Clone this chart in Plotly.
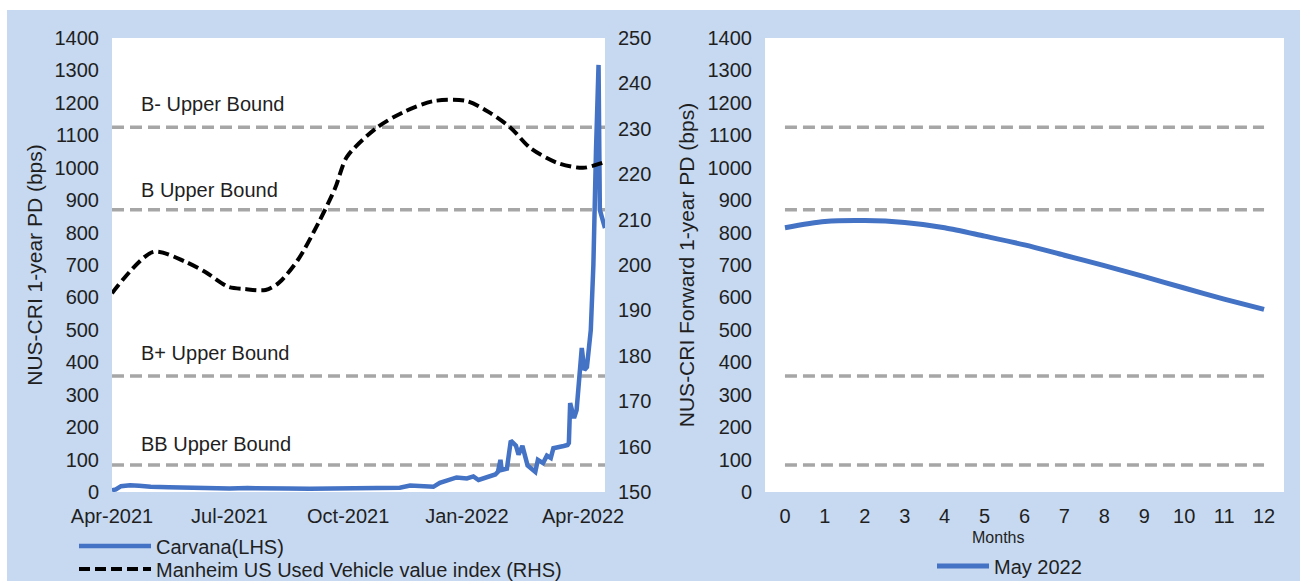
import plotly.graph_objects as go

# ---------------- data ----------------
carvana_dates = [
    "2021-04-01", "2021-04-04", "2021-04-08", "2021-04-15", "2021-04-22", "2021-05-01",
    "2021-05-15", "2021-06-01", "2021-06-15", "2021-07-01", "2021-07-15", "2021-08-01",
    "2021-08-15", "2021-09-01", "2021-09-15", "2021-10-01", "2021-10-15", "2021-11-01",
    "2021-11-10", "2021-11-18", "2021-11-26", "2021-12-06", "2021-12-11", "2021-12-19",
    "2021-12-24", "2022-01-01", "2022-01-06", "2022-01-10", "2022-01-16", "2022-01-23",
    "2022-01-25", "2022-01-27", "2022-01-28", "2022-02-01", "2022-02-04", "2022-02-08",
    "2022-02-10", "2022-02-13", "2022-02-17", "2022-02-21", "2022-02-23", "2022-02-25",
    "2022-03-01", "2022-03-04", "2022-03-07", "2022-03-09", "2022-03-13", "2022-03-17",
    "2022-03-20", "2022-03-21", "2022-03-22", "2022-03-25", "2022-03-27", "2022-03-29",
    "2022-03-31", "2022-04-02", "2022-04-04", "2022-04-07", "2022-04-09", "2022-04-11",
    "2022-04-13", "2022-04-14", "2022-04-16", "2022-04-18",
]
carvana_pd = [
    5, 8, 18, 21, 19, 16,
    15, 13, 14, 11, 12, 10,
    11, 10, 11, 10, 12, 11,
    13, 20, 17, 16, 28, 37,
    45, 42, 48, 37, 46, 54,
    62, 99, 68, 72, 158, 143,
    115, 142, 82, 68, 62, 99,
    89, 112, 105, 135, 140, 142,
    145, 151, 274, 228, 253, 345,
    444, 376, 385, 500, 700, 1050,
    1317, 870, 840, 814,
]

manheim_dates = [
    "2021-04-01", "2021-05-03", "2021-05-28", "2021-06-12", "2021-06-30", "2021-07-13",
    "2021-07-29", "2021-08-08", "2021-08-23", "2021-09-08", "2021-09-21", "2021-09-30",
    "2021-10-23", "2021-11-13", "2021-12-06", "2022-01-01", "2022-01-19", "2022-02-04",
    "2022-02-19", "2022-03-12", "2022-04-01", "2022-04-18",
]
manheim_index = [
    193.8, 202.9, 200.7, 198.5, 195.2, 194.7,
    194.5, 196.0, 201.1, 209.3, 217.0, 223.8,
    230.2, 233.7, 236.1, 236.1, 233.5, 230.2,
    225.8, 222.5, 221.4, 222.7,
]

bound_names = ["B- Upper Bound", "B Upper Bound", "B+ Upper Bound", "BB Upper Bound"]
bound_values = [1125, 870, 358, 83]
bound_label_y = [1196, 931, 429, 148]

date_range = ["2021-04-01", "2022-04-18"]
date_tickvals = ["2021-04-01", "2021-07-01", "2021-10-01", "2022-01-01", "2022-04-01"]
date_ticktext = ["Apr-2021", "Jul-2021", "Oct-2021", "Jan-2022", "Apr-2022"]

months = list(range(13))
forward_pd_may2022 = [815, 834, 837, 831, 815, 789, 762, 730, 698, 664, 629, 595, 563]

# ---------------- layout geometry ----------------
W, H = 1306, 581
ML, MT = 112, 38
MR = W - 1284
MB = H - 492
PW = W - ML - MR
PH = H - MT - MB
BG = "#C6D9F1"
BLUE = "#4472C4"
GREY = "#A6A6A6"
TXT = "#1f1f1f"
FONT = "Liberation Sans"


def px_x(p):
    return (p - ML) / PW


def px_y(p):
    return (H - MB - p) / PH


left_dom = [0, px_x(605)]
right_dom = [px_x(765), 1]

fig = go.Figure()

for v in bound_values:
    fig.add_trace(go.Scatter(
        x=date_range, y=[v, v], mode="lines", xaxis="x", yaxis="y",
        line=dict(color=GREY, width=3.5, dash="12px,6px"), showlegend=False, hoverinfo="skip"))

for v in bound_values:
    fig.add_trace(go.Scatter(
        x=months, y=[v] * len(months), mode="lines", xaxis="x2", yaxis="y3",
        line=dict(color=GREY, width=3.5, dash="12px,6px"), showlegend=False, hoverinfo="skip"))

fig.add_trace(go.Scatter(
    x=manheim_dates, y=manheim_index, mode="lines", name="Manheim US Used Vehicle value index (RHS)",
    xaxis="x", yaxis="y2", line=dict(color="black", width=4, dash="11px,5px", shape="spline", smoothing=0.8),
    legend="legend3"))

fig.add_trace(go.Scatter(
    x=carvana_dates, y=carvana_pd, mode="lines", name="Carvana(LHS)",
    xaxis="x", yaxis="y", line=dict(color=BLUE, width=4.5), legend="legend"))

fig.add_trace(go.Scatter(
    x=months, y=forward_pd_may2022, mode="lines", name="May 2022",
    xaxis="x2", yaxis="y3", line=dict(color=BLUE, width=5, shape="spline", smoothing=0.8),
    legend="legend2"))

shapes = [
    dict(type="rect", xref="paper", yref="paper", x0=px_x(7), x1=px_x(1300), y0=px_y(581), y1=px_y(10),
         fillcolor=BG, line=dict(width=0), layer="below"),
    dict(type="rect", xref="paper", yref="paper", x0=left_dom[0], x1=left_dom[1], y0=0, y1=1,
         fillcolor="white", line=dict(width=0), layer="below"),
    dict(type="rect", xref="paper", yref="paper", x0=right_dom[0], x1=right_dom[1], y0=0, y1=1,
         fillcolor="white", line=dict(width=0), layer="below"),
]

annotations = []
for name, yv in zip(bound_names, bound_label_y):
    annotations.append(dict(x="2021-04-22", y=yv, xref="x", yref="y", text=name, showarrow=False,
                            xanchor="left", yanchor="middle", font=dict(size=20, color=TXT, family=FONT)))
annotations.append(dict(x=px_x(998), y=px_y(537), xref="paper", yref="paper", text="Months", showarrow=False,
                        xanchor="center", yanchor="middle", font=dict(size=16, color=TXT, family=FONT)))

axis_common = dict(showgrid=False, zeroline=False, showline=False, ticks="",
                   tickfont=dict(size=20, color=TXT, family=FONT))

legend_common = dict(xanchor="left", yanchor="middle", orientation="v", bgcolor="rgba(0,0,0,0)",
                     font=dict(size=20, color=TXT, family=FONT))

fig.update_layout(
    width=W, height=H,
    margin=dict(l=ML, r=MR, t=MT, b=MB, autoexpand=False),
    paper_bgcolor="white", plot_bgcolor="rgba(0,0,0,0)",
    font=dict(family=FONT, color=TXT, size=20),
    shapes=shapes, annotations=annotations,
    xaxis=dict(domain=left_dom, type="date", range=date_range, tickvals=date_tickvals,
               ticktext=date_ticktext, anchor="y", ticklabelstandoff=10, **axis_common),
    yaxis=dict(domain=[0, 1], range=[0, 1400], dtick=100, anchor="x", ticklabelstandoff=12,
               title=dict(text="NUS-CRI 1-year PD (bps)", standoff=6, font=dict(size=21, color=TXT, family=FONT)),
               **axis_common),
    yaxis2=dict(range=[150, 250], dtick=10, overlaying="y", side="right", anchor="x",
                ticklabelstandoff=12, **axis_common),
    xaxis2=dict(domain=right_dom, range=[-0.5, 12.5], dtick=1, anchor="y3", ticklabelstandoff=10,
                **axis_common),
    yaxis3=dict(domain=[0, 1], range=[0, 1400], dtick=100, anchor="x2", ticklabelstandoff=12,
                title=dict(text="NUS-CRI Forward 1-year PD (bps)", standoff=7,
                           font=dict(size=21, color=TXT, family=FONT)),
                **axis_common),
    legend=dict(x=px_x(74), y=px_y(546), itemwidth=72, **legend_common),
    legend3=dict(x=px_x(74), y=px_y(569), itemwidth=72, **legend_common),
    legend2=dict(x=px_x(932), y=px_y(566), itemwidth=52, **legend_common),
)

fig.write_html("out.html", config={"displayModeBar": False},
               post_script="document.body.style.margin='0px';")
